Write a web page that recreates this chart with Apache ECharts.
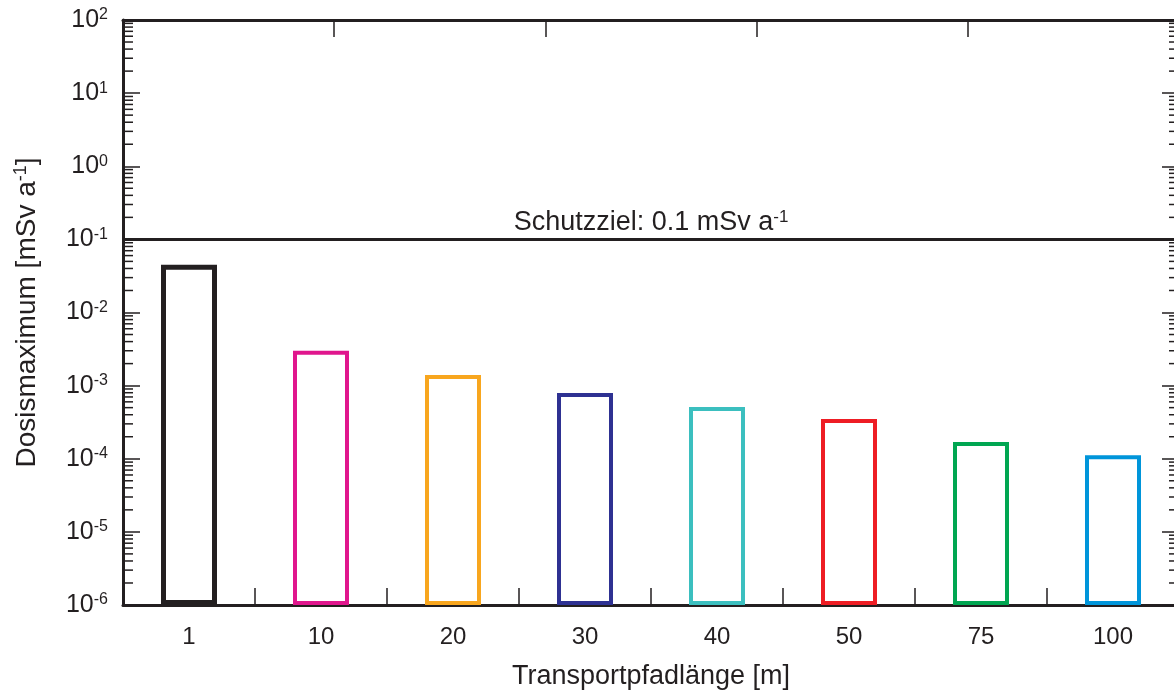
<!DOCTYPE html>
<html><head><meta charset="utf-8">
<script src="https://cdn.jsdelivr.net/npm/echarts@6/dist/echarts.min.js"></script>
<style>html,body{margin:0;padding:0;background:#fff}#c{width:1174px;height:692px}</style>
</head><body><div id="c"></div>
<script>
// ---- data ----
const categories = ['1', '10', '20', '30', '40', '50', '75', '100'];
const doseMax = [0.045, 0.0030, 0.0014, 0.00079, 0.00051, 0.00035, 0.00017, 0.000112];
const barColors = ['#231f20', '#e0168d', '#f8a61e', '#2e3192', '#3bbfbf', '#ee1d24', '#00a651', '#0095da'];
const barBorders = [5, 4, 4, 4, 4, 4, 4, 4];
const protectionGoal = 0.1;
const yMin = 1e-6, yMax = 100;
const minorMultipliers = [2, 3, 4, 5, 6, 7, 8, 9];
const decadeExponents = [-6, -5, -4, -3, -2, -1, 0, 1];

// ---- helpers ----
const FONT = '"Liberation Sans", Arial, sans-serif';
const INK = '#231f20';
const minorTicks = [];
decadeExponents.forEach(e => minorMultipliers.forEach(m => minorTicks.push([0, m * Math.pow(10, e)])));

const chart = echarts.init(document.getElementById('c'), null, {renderer: 'canvas'});
chart.setOption({
  animation: false,
  backgroundColor: '#fff',
  textStyle: {fontFamily: FONT, color: INK},
  grid: {left: 123, top: 20, width: 1056, height: 585, containLabel: false, outerBoundsMode: 'none'},
  xAxis: [{
    type: 'category',
    data: categories,
    position: 'bottom',
    boundaryGap: true,
    axisLine: {show: true, lineStyle: {color: INK, width: 3}},
    axisTick: {show: true, inside: true, length: 17, alignWithLabel: false, lineStyle: {color: INK, width: 1.5}},
    axisLabel: {fontSize: 24, margin: 20, color: INK, fontFamily: FONT},
    splitLine: {show: false},
    name: 'Transportpfadlänge [m]',
    nameLocation: 'middle',
    nameGap: 58,
    nameTextStyle: {fontSize: 27, color: INK, fontFamily: FONT}
  }, {
    type: 'value',
    position: 'top',
    min: 0, max: 5, interval: 1,
    axisLine: {show: true, lineStyle: {color: INK, width: 3}},
    axisTick: {show: true, inside: true, length: 17, lineStyle: {color: INK, width: 1.5}},
    axisLabel: {show: false},
    splitLine: {show: false}
  }],
  yAxis: [{
    type: 'log',
    logBase: 10,
    min: yMin, max: yMax,
    interval: 1,
    startValue: yMin,
    position: 'left',
    axisLine: {show: true, lineStyle: {color: INK, width: 3}},
    axisTick: {show: true, inside: true, length: 17, lineStyle: {color: INK, width: 1.5}},
    splitLine: {show: false},
    axisLabel: {
      margin: 15,
      formatter: v => '{b|10}{s|' + Math.round(Math.log10(v)) + '}',
      rich: {
        b: {fontSize: 25, fontFamily: FONT, color: INK, lineHeight: 26},
        s: {fontSize: 16, fontFamily: FONT, color: INK, lineHeight: 15, verticalAlign: 'top'}
      }
    },
    name: '{a|Dosismaximum [mSv a}{s|-1}{a|]}',
    nameLocation: 'middle',
    nameGap: 81,
    nameRotate: 90,
    nameTextStyle: {
      rich: {
        a: {fontSize: 28, fontFamily: FONT, color: INK, lineHeight: 30},
        s: {fontSize: 18, fontFamily: FONT, color: INK, lineHeight: 16, verticalAlign: 'top'}
      }
    }
  }, {
    type: 'log',
    logBase: 10,
    min: yMin, max: yMax,
    interval: 1,
    position: 'right',
    axisLine: {show: true, lineStyle: {color: INK, width: 3}},
    axisTick: {show: true, inside: true, length: 17, lineStyle: {color: INK, width: 1.5}},
    axisLabel: {show: false},
    splitLine: {show: false}
  }],
  series: [{
    type: 'bar',
    xAxisIndex: 0,
    yAxisIndex: 0,
    barWidth: 56,
    data: doseMax.map((v, i) => ({
      value: v,
      itemStyle: {color: 'rgba(255,255,255,0)', borderColor: barColors[i], borderWidth: barBorders[i]}
    })),
    markLine: {
      silent: true,
      symbol: ['none', 'none'],
      lineStyle: {color: INK, width: 3, type: 'solid'},
      label: {
        show: true,
        position: 'insideMiddleTop',
        distance: 3,
        formatter: () => '{a|Schutzziel: ' + protectionGoal + ' mSv a}{s|-1}',
        rich: {
          a: {fontSize: 27, fontFamily: FONT, color: INK, lineHeight: 28},
          s: {fontSize: 17, fontFamily: FONT, color: INK, lineHeight: 16, verticalAlign: 'top'}
        }
      },
      emphasis: {disabled: true},
      data: [{yAxis: protectionGoal}]
    }
  }, {
    type: 'custom',
    xAxisIndex: 0,
    yAxisIndex: 0,
    silent: true,
    z: 5,
    clip: false,
    data: minorTicks,
    renderItem: (params, api) => {
      const y = api.coord([0, api.value(1)])[1];
      const cs = params.coordSys;
      const style = {stroke: INK, lineWidth: 1.5};
      return {type: 'group', children: [
        {type: 'line', shape: {x1: cs.x, y1: y, x2: cs.x + 10, y2: y}, style},
        {type: 'line', shape: {x1: cs.x + cs.width - 10, y1: y, x2: cs.x + cs.width, y2: y}, style}
      ]};
    }
  }]
});
</script>
</body></html>
